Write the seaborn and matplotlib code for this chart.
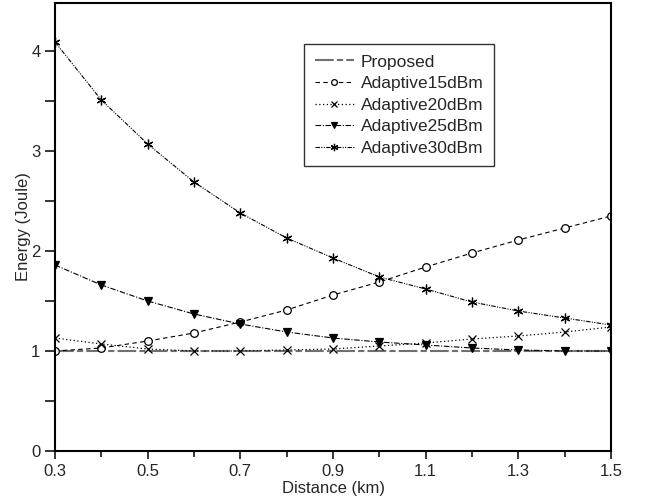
import numpy as np
import pandas as pd
import matplotlib
matplotlib.use("Agg")
import matplotlib.pyplot as plt
import seaborn as sns
from matplotlib.ticker import MultipleLocator, FixedLocator

distance = [0.3, 0.4, 0.5, 0.6, 0.7, 0.8, 0.9, 1.0, 1.1, 1.2, 1.3, 1.4, 1.5]
proposed = [1.0] * 13
adaptive15 = [1.00, 1.03, 1.10, 1.18, 1.29, 1.41, 1.56, 1.69, 1.84, 1.98, 2.11, 2.23, 2.35]
adaptive20 = [1.13, 1.07, 1.02, 1.00, 1.00, 1.01, 1.02, 1.05, 1.08, 1.12, 1.15, 1.19, 1.24]
adaptive25 = [1.86, 1.66, 1.50, 1.37, 1.27, 1.19, 1.13, 1.09, 1.06, 1.03, 1.01, 1.00, 1.00]
adaptive30 = [4.09, 3.51, 3.07, 2.69, 2.38, 2.13, 1.93, 1.74, 1.62, 1.49, 1.40, 1.33, 1.26]

series_names = ["Proposed", "Adaptive15dBm", "Adaptive20dBm", "Adaptive25dBm", "Adaptive30dBm"]
x_ticks = [0.3, 0.5, 0.7, 0.9, 1.1, 1.3, 1.5]
y_ticks = [0, 1, 2, 3, 4]

sns.set_style("ticks")
plt.rcParams['font.family'] = ['Liberation Sans', 'DejaVu Sans']

fig = plt.figure(figsize=(6.45, 5.04), dpi=100)
ax = fig.add_axes([55/645, 1-451/504, (611-55)/645, (451-3)/504])

values = [proposed, adaptive15, adaptive20, adaptive25, adaptive30]
styles = [
    dict(color="#707070", dashes=(9, 1.5, 3, 1.5), marker=None, lw=1.5),
    dict(color="black", dashes=(4, 3), marker="o", lw=0.8, mfc="white", ms=5.5),
    dict(color="black", dashes=(1, 2), marker="x", lw=0.9, mfc="black", ms=6),
    dict(color="black", dashes=(5, 1.5, 1, 1.5), marker="v", lw=0.8, mfc="black", ms=6),
    dict(color="black", dashes=(4, 1.2, 1, 1.2, 1, 1.2), marker=(6, 2, 0), lw=0.8, mfc="black", ms=7),
]

handles = []
for name, vals, st in zip(series_names, values, styles):
    df = pd.DataFrame({"Distance": distance, "Energy": vals})
    sns.lineplot(data=df, x="Distance", y="Energy", ax=ax, color=st["color"],
                 lw=st["lw"], marker=st["marker"],
                 markersize=st.get("ms", 5),
                 markerfacecolor=st.get("mfc", "black"),
                 markeredgecolor="black", markeredgewidth=0.9,
                 label=name, legend=False)
    line = ax.lines[-1]
    line.set_dashes(st["dashes"])
    handles.append(line)

ax.set_xlim(0.3, 1.5)
ax.set_ylim(0, 4.48)
ax.xaxis.set_major_locator(FixedLocator(x_ticks))
ax.xaxis.set_minor_locator(MultipleLocator(0.1))
ax.yaxis.set_major_locator(FixedLocator(y_ticks))
ax.yaxis.set_minor_locator(MultipleLocator(0.5))
ax.set_xticklabels([f"{t:.1f}" for t in x_ticks])
ax.set_yticklabels([str(t) for t in y_ticks])
ax.tick_params(axis="both", which="major", labelsize=12, width=1.3, length=6, direction="out")
ax.tick_params(axis="both", which="minor", width=1.3, length=4, direction="out")
ax.tick_params(axis="y", which="both", length=7)
for sp in ax.spines.values():
    sp.set_linewidth(1.5)
    sp.set_color("black")

ax.set_xlabel("Distance (km)", fontsize=12, labelpad=1)
ax.set_ylabel("Energy (Joule)", fontsize=12, labelpad=0)

leg = ax.legend(handles=handles, labels=series_names, loc="upper left",
                bbox_to_anchor=(0.448, 0.9085), borderaxespad=0, fontsize=12.5,
                frameon=True, fancybox=False, edgecolor="black", handlelength=2.25,
                borderpad=0.6, labelspacing=0.37, handletextpad=0.4,
                markerscale=0.75)
leg.get_frame().set_linewidth(1.0)

fig.savefig("out.png", dpi=100)
